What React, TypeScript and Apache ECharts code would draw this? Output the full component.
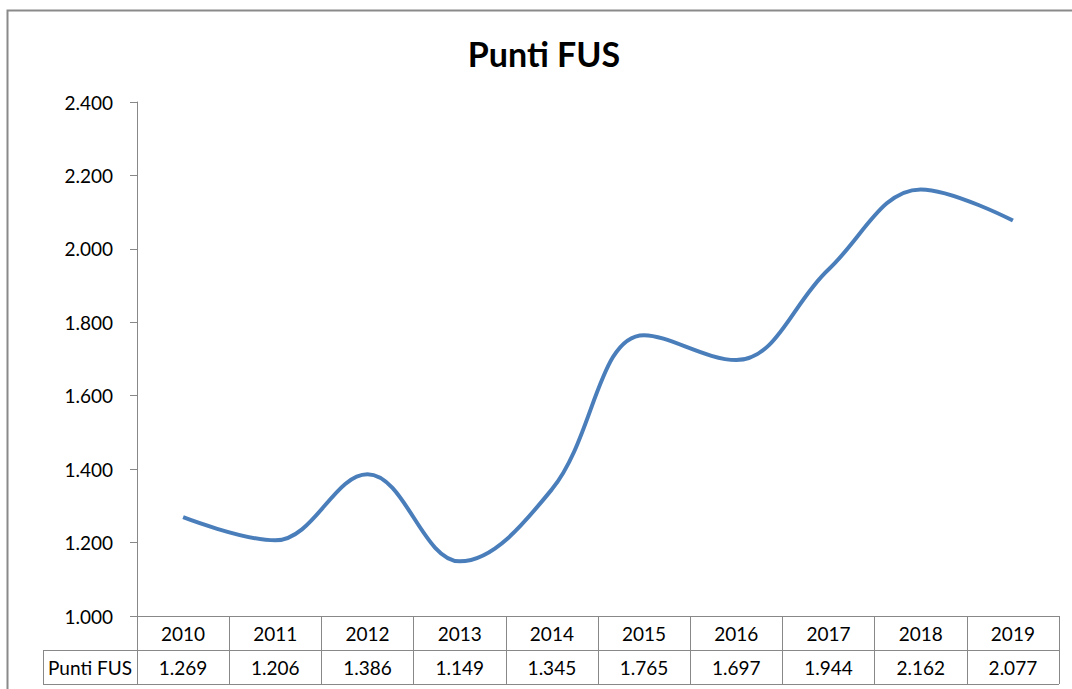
import React, { useEffect, useRef } from "react";
import * as echarts from "echarts";

const years = ["2010", "2011", "2012", "2013", "2014", "2015", "2016", "2017", "2018", "2019"];
const puntiFus = [1269, 1206, 1386, 1149, 1345, 1765, 1697, 1944, 2162, 2077];
const seriesName = "Punti FUS";
const titleText = "Punti FUS";
const yMin = 1000;
const yMax = 2400;
const yStep = 200;

const FONT = "Lato, 'Open Sans', sans-serif";
const GRAY = "#888888";

function fmt(n: number): string {
  return Math.round(n)
    .toString()
    .replace(/\B(?=(\d{3})+(?!\d))/g, ".");
}

export default function App() {
  const ref = useRef<HTMLDivElement>(null);
  useEffect(() => {
    if (!ref.current) return;
    const chart = echarts.init(ref.current, null, { renderer: "svg" });
    chart.setOption({
      animation: false,
      backgroundColor: "#ffffff",
      title: {
        text: titleText,
        left: 539,
        top: 31,
        textAlign: "center",
        textStyle: { fontFamily: FONT, fontWeight: "bold", fontSize: 34, color: "#000" },
      },
      grid: { left: 137, right: 13, top: 102, bottom: 73 },
      xAxis: [
        {
          type: "category",
          data: years,
          boundaryGap: true,
          position: "bottom",
          axisLine: { show: true, lineStyle: { color: GRAY, width: 1 } },
          axisTick: { show: true, length: 68, interval: 0, lineStyle: { color: GRAY, width: 1 } },
          axisLabel: { interval: 0, margin: 8, fontFamily: FONT, fontSize: 19, color: "#000" },
        },
        {
          type: "category",
          data: years,
          boundaryGap: true,
          position: "bottom",
          offset: 34,
          axisLine: { show: false },
          axisTick: { show: false },
          axisLabel: {
            interval: 0,
            margin: 8,
            fontFamily: FONT,
            fontSize: 19,
            color: "#000",
            formatter: (_v: string, i: number) => fmt(puntiFus[i]),
          },
        },
      ],
      yAxis: {
        type: "value",
        min: yMin,
        max: yMax,
        interval: yStep,
        axisLine: { show: true, lineStyle: { color: GRAY, width: 1 } },
        axisTick: { show: true, length: 7, lineStyle: { color: GRAY } },
        splitLine: { show: false },
        axisLabel: { margin: 24, fontFamily: FONT, fontSize: 19, color: "#000", formatter: (v: number) => fmt(v) },
      },
      series: [
        {
          name: seriesName,
          type: "line",
          data: puntiFus,
          smooth: 0.38,
          symbol: "none",
          lineStyle: { color: "#4A7EBB", width: 4 },
        },
      ],
      graphic: [
        {
          type: "rect",
          shape: { x: 7.5, y: 10.5, width: 1200, height: 800 },
          style: { fill: "none", stroke: "#8a8a8a", lineWidth: 2 },
          silent: true,
        },
        {
          type: "line",
          shape: { x1: 43, y1: 650.5, x2: 1059, y2: 650.5 },
          style: { stroke: GRAY, lineWidth: 1 },
        },
        {
          type: "line",
          shape: { x1: 43, y1: 684.5, x2: 1059, y2: 684.5 },
          style: { stroke: GRAY, lineWidth: 1 },
        },
        {
          type: "line",
          shape: { x1: 43.5, y1: 650, x2: 43.5, y2: 685 },
          style: { stroke: GRAY, lineWidth: 1 },
        },
        {
          type: "text",
          x: 90,
          y: 667,
          style: {
            text: seriesName,
            fontFamily: FONT,
            fontSize: 19,
            fill: "#000",
            align: "center",
            verticalAlign: "middle",
          },
        },
      ],
    });
    return () => chart.dispose();
  }, []);
  return (
    <div
      ref={ref}
      style={{ position: "fixed", left: 0, top: 0, width: 1072, height: 689 }}
    />
  );
}
